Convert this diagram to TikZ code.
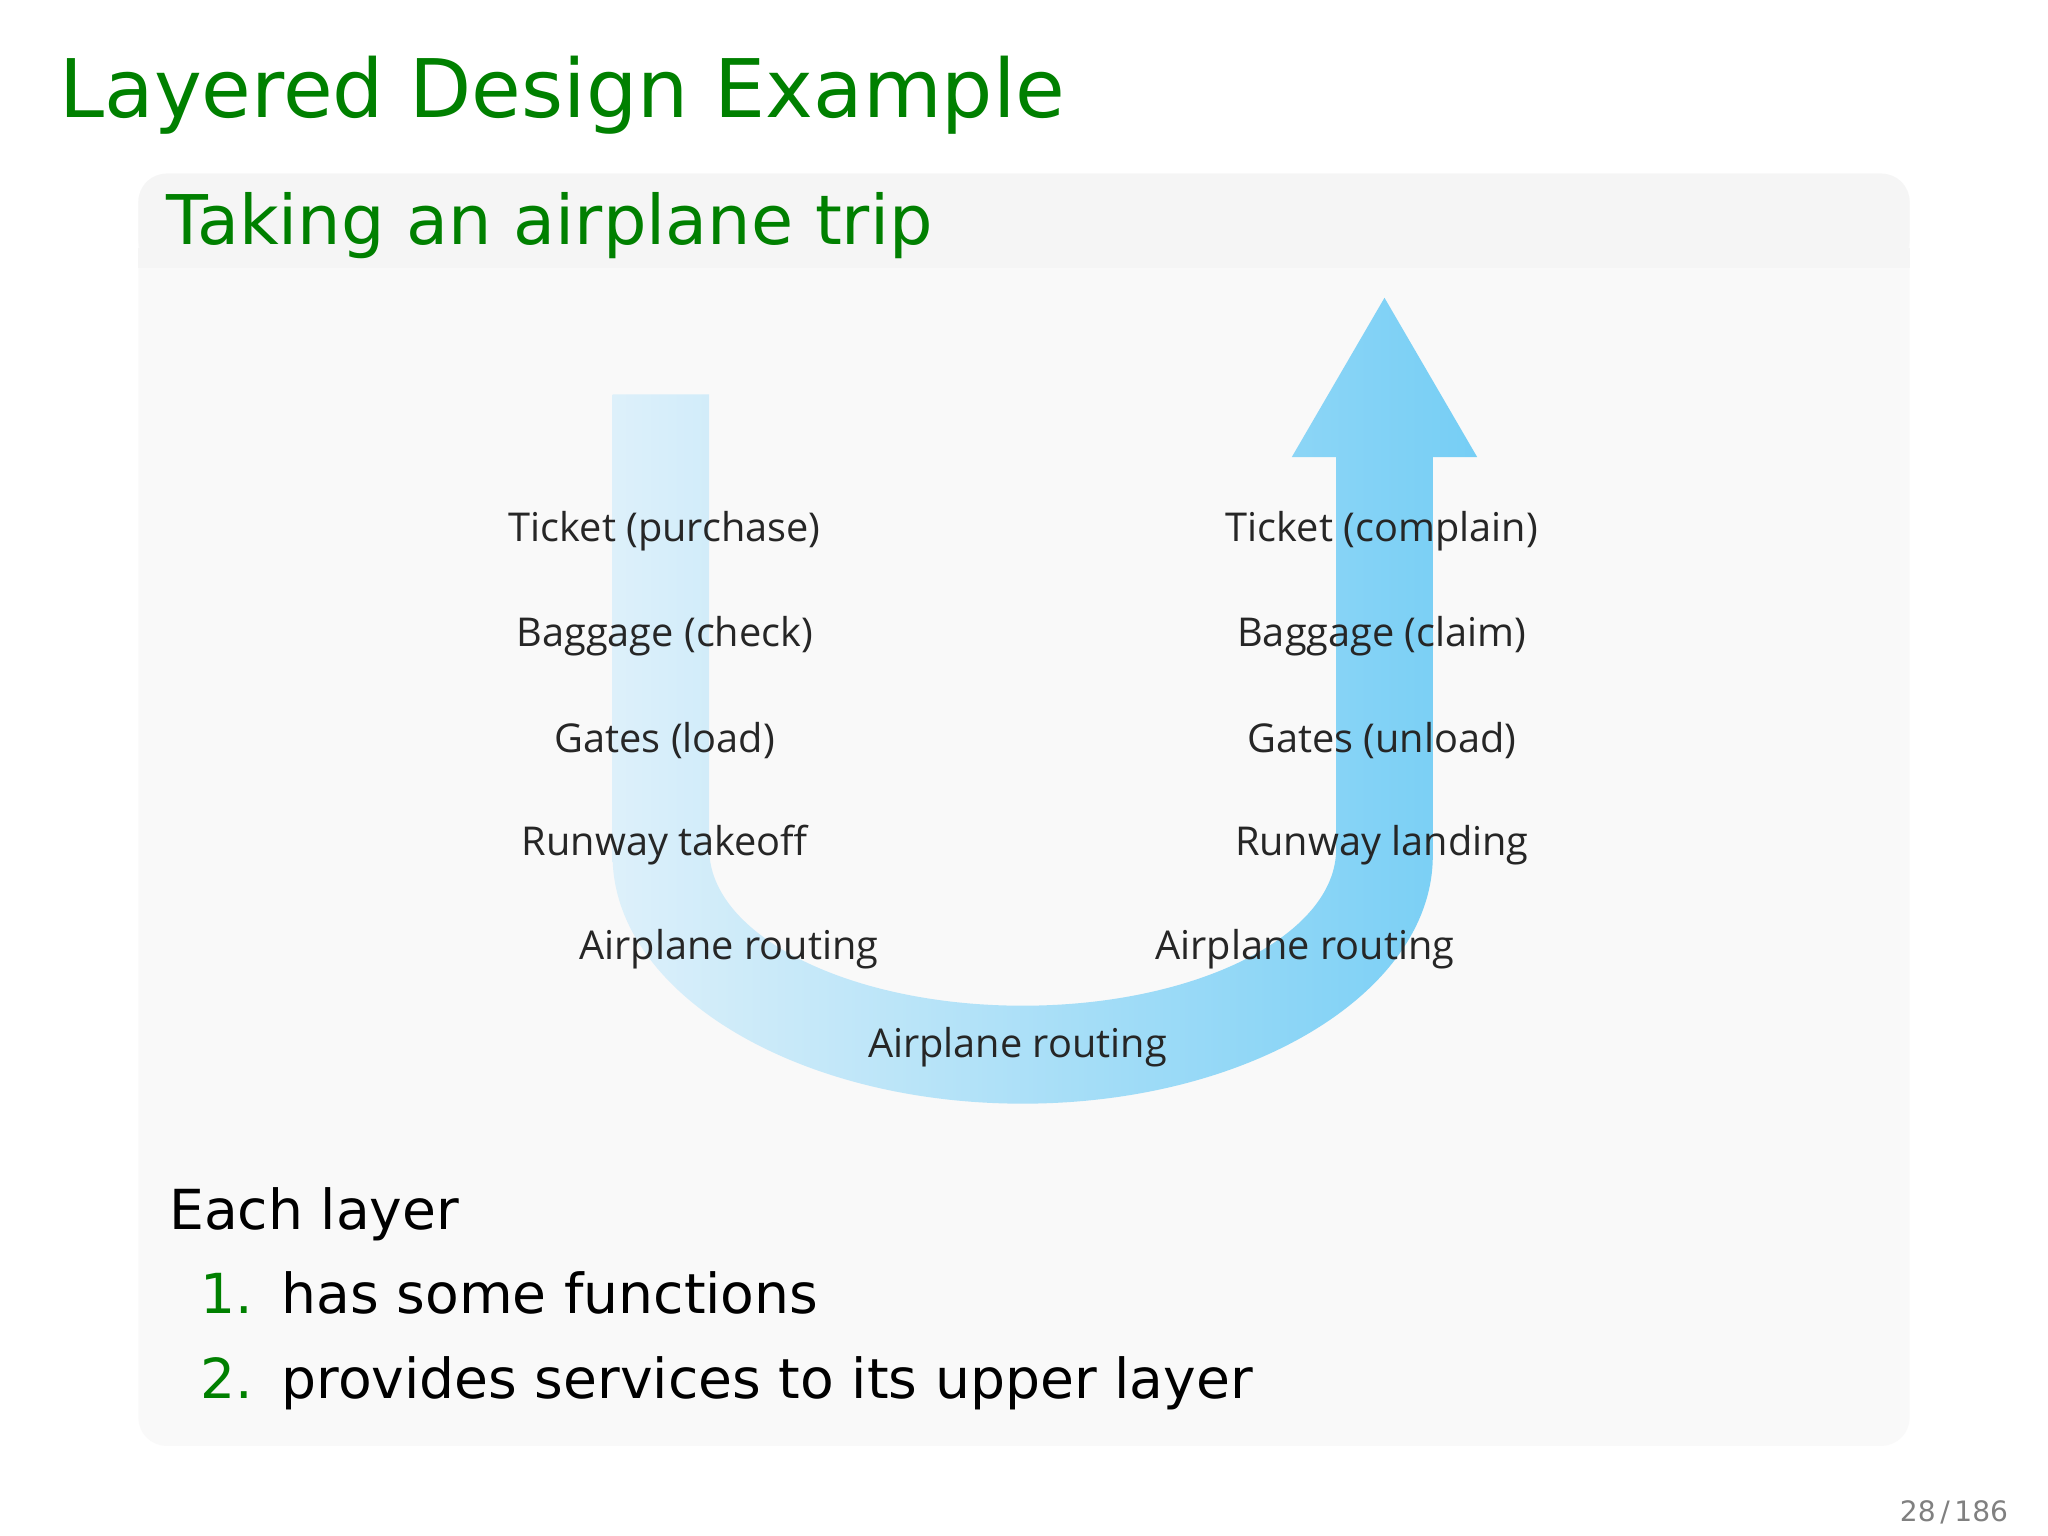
\documentclass[tikz,border=0pt]{standalone}
\usepackage{fontspec}
\setmainfont{DejaVu Sans}
\newfontfamily\labfont{Open Sans}
\begin{document}
\begin{tikzpicture}[x=0.013061cm,y=-0.013061cm,
  lab/.style={font=\labfont\fontsize{11.3}{13}\selectfont,text=black!85},
  big/.style={font=\fontsize{15.7}{19}\selectfont,anchor=base west}]
\definecolor{tgreen}{RGB}{0,128,0}
\definecolor{ulight}{RGB}{221,240,250}
\definecolor{udark}{RGB}{118,206,245}
\useasboundingbox (0,0) rectangle (1568,1176);
\fill[white] (0,0) rectangle (1568,1176);
\fill[black!2.5,rounded corners=8] (106,133) rectangle (1462,1107);
\fill[black!4,rounded corners=8] (106,133) rectangle (1462,205);
\fill[black!4] (106,190) rectangle (1462,205);
\node[anchor=base west,text=tgreen,font=\fontsize{23}{28}\selectfont] (title) at (36,90) {Layered Design Example};
\node[anchor=base west,text=tgreen,font=\fontsize{19.5}{24}\selectfont] (sub) at (118,187) {Taking an airplane trip};
\shade[left color=ulight, right color=udark]
  (469,302) -- (469,655) arc[start angle=180,end angle=0,x radius=314,y radius=190]
  -- (1097,350) -- (1131,350) -- (1060,228) -- (989,350) -- (1023,350) -- (1023,650)
  arc[start angle=0,end angle=180,x radius=240,y radius=120] -- (543,302) -- cycle;
\node[lab] (l1) at (509,407) {Ticket (purchase)};
\node[lab] (l2) at (509,487) {Baggage (check)};
\node[lab] (l3) at (509,567) {Gates (load)};
\node[lab] (l4) at (509,647) {Runway takeoff};
\node[lab] (l5) at (558,727) {Airplane routing};
\node[lab] (m) at (779,802) {Airplane routing};
\node[lab] (r1) at (1058,407) {Ticket (complain)};
\node[lab] (r2) at (1058,487) {Baggage (claim)};
\node[lab] (r3) at (1058,567) {Gates (unload)};
\node[lab] (r4) at (1058,647) {Runway landing};
\node[lab] (r5) at (999,727) {Airplane routing};
\node[big] (each) at (120,941) {Each layer};
\node[big,text=tgreen] (n1) at (144,1006) {1.};
\node[big] (t1) at (206,1006) {has some functions};
\node[big,text=tgreen] (n2) at (144,1071) {2.};
\node[big] (t2) at (206,1071) {provides services to its upper layer};
\node[anchor=base east,text=black!50,font=\fontsize{8}{10}\selectfont] (pg) at (1547,1165) {28\,/\,186};
\end{tikzpicture}
\end{document}
